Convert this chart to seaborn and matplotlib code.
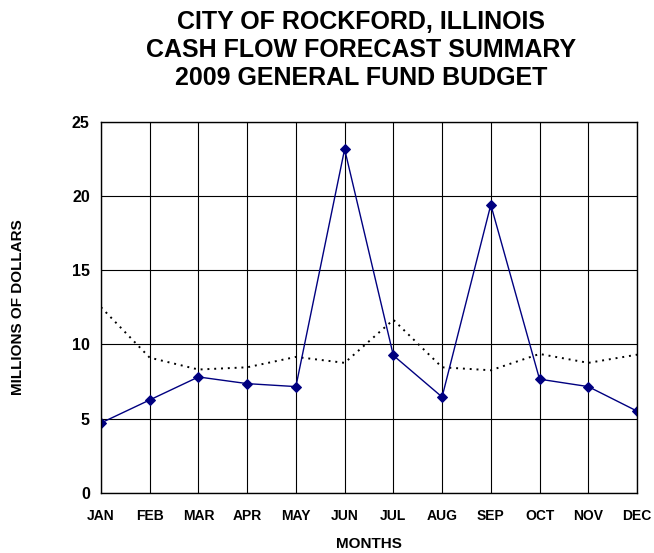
import pandas as pd
import seaborn as sns
import matplotlib.pyplot as plt
from matplotlib.ticker import MultipleLocator

# Données (millions de dollars)
months = ['JAN', 'FEB', 'MAR', 'APR', 'MAY', 'JUN', 'JUL', 'AUG', 'SEP', 'OCT', 'NOV', 'DEC']
cash_flow = [4.7, 6.25, 7.8, 7.35, 7.15, 23.15, 9.25, 6.45, 19.4, 7.65, 7.15, 5.5]
baseline = [12.5, 9.1, 8.3, 8.45, 9.15, 8.75, 11.65, 8.45, 8.25, 9.35, 8.75, 9.3]

df = pd.DataFrame({'Month': months, 'CashFlow': cash_flow, 'Baseline': baseline})
df['Pos'] = range(len(months))

sns.set_style('white')
plt.rcParams['font.family'] = ['Liberation Sans', 'DejaVu Sans']
plt.rcParams.update({'text.color': 'black', 'axes.labelcolor': 'black',
                     'xtick.color': 'black', 'ytick.color': 'black'})

fig = plt.figure(figsize=(6.54, 5.53), dpi=100)
ax = fig.add_axes([0.1544, 0.109, 0.8196, 0.671])

sns.lineplot(data=df, x='Pos', y='Baseline', ax=ax, color='black',
             linestyle=(0, (1, 2.5)), linewidth=1.4)
sns.lineplot(data=df, x='Pos', y='CashFlow', ax=ax, color='#000080',
             marker='D', markersize=5, markeredgecolor='#000080', linewidth=1)

ax.set_xlim(0, 11)
ax.set_ylim(0, 25)
ax.set_xticks(df['Pos'])
ax.set_xticklabels(months, fontweight='bold', fontsize=10)
ax.xaxis.set_minor_locator(MultipleLocator(0.5))
ax.yaxis.set_major_locator(MultipleLocator(5))
for lab in ax.get_yticklabels():
    lab.set_fontweight('bold')
    lab.set_fontsize(11.5)

ax.grid(True, which='major', color='black', linewidth=0.8)
ax.tick_params(axis='x', which='major', direction='out', length=5, width=1, pad=7, color='black')
ax.tick_params(axis='x', which='minor', direction='in', length=4, width=1, color='black')
ax.tick_params(axis='y', which='major', direction='out', length=5, width=1, pad=3, color='black')
for s in ax.spines.values():
    s.set_color('black')
    s.set_linewidth(1)

ax.set_xlabel('MONTHS', fontweight='bold', fontsize=11, labelpad=10)
ax.set_ylabel('MILLIONS OF DOLLARS', fontweight='bold', fontsize=11, labelpad=34)

fig.text(0.552, 0.982, 'CITY OF ROCKFORD, ILLINOIS\nCASH FLOW FORECAST SUMMARY\n2009 GENERAL FUND BUDGET',
         ha='center', va='top', fontweight='bold', fontsize=18, linespacing=1.2)

fig.savefig('out.png', dpi=100)
